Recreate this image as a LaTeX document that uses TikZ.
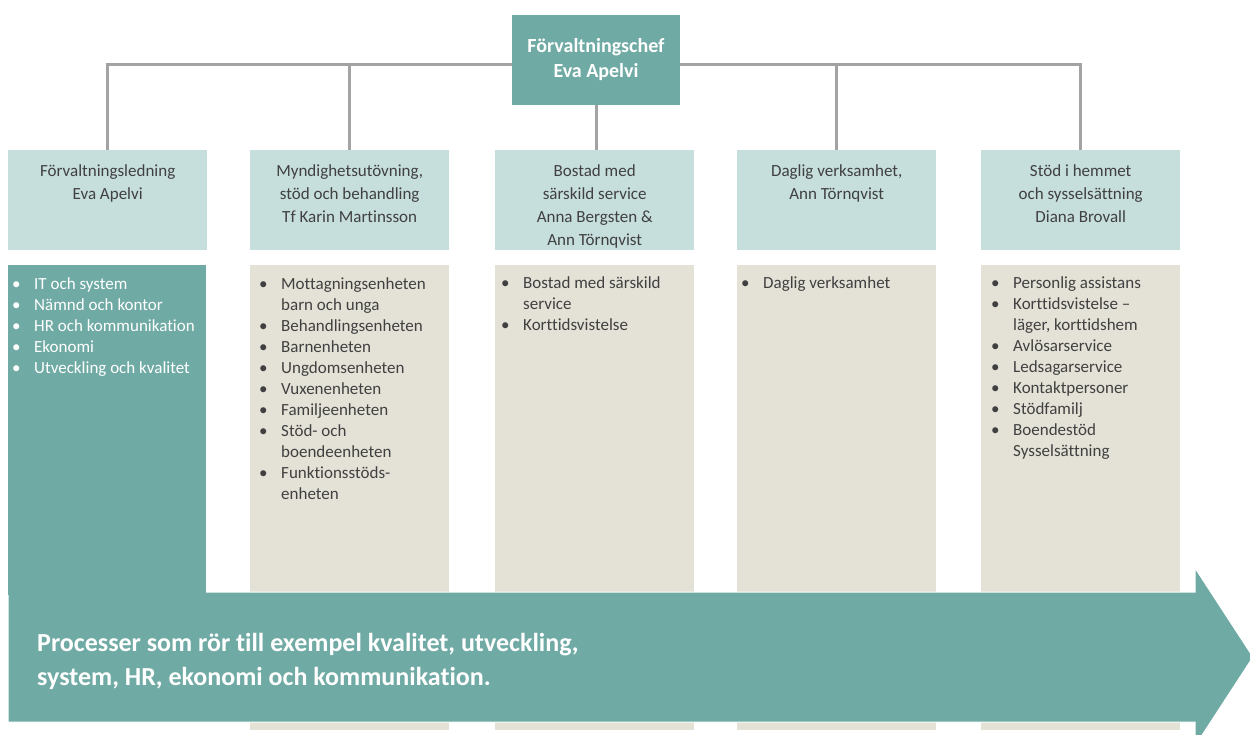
\documentclass[tikz,border=0pt]{standalone}
\usepackage{fontspec}
\setmainfont{Carlito}[Ligatures=NoCommon]
\usetikzlibrary{calc}

\definecolor{tealfill}{HTML}{70AAA4}
\definecolor{headfill}{HTML}{C6DEDC}
\definecolor{unitfill}{HTML}{E4E1D7}
\definecolor{linegray}{HTML}{A3A3A3}
\definecolor{darktext}{HTML}{404040}

% bullet with a fixed-width slot, so wrapped lines hang under the text
\newcommand{\bul}{\makebox[22pt][l]{\textbullet}}
\newcommand{\unitlist}[1]{\begin{tabular}{@{}l@{}l@{}}#1\end{tabular}}

\tikzset{
  conn/.style={draw=linegray, line width=3pt},
  chefbox/.style={fill=tealfill, minimum width=168pt, minimum height=90pt,
    inner sep=0pt, align=center, text=white,
    font=\fontsize{20}{25}\selectfont\bfseries},
  headbox/.style={fill=headfill, minimum width=199pt, minimum height=100pt,
    inner sep=0pt, anchor=north west},
  unitbox/.style={fill=unitfill, minimum width=199pt, minimum height=465pt,
    inner sep=0pt, anchor=north west},
  staffbox/.style={fill=tealfill, minimum width=198pt, minimum height=330pt,
    inner sep=0pt, anchor=north west},
  headtext/.style={anchor=north, align=center, inner sep=0pt, text=darktext,
    font=\fontsize{17}{23}\selectfont},
  listtext/.style={anchor=north west, inner sep=0pt, text=darktext,
    font=\fontsize{17}{21}\selectfont},
  bigtext/.style={anchor=north west, align=left, inner sep=0pt, text=white,
    font=\fontsize{26}{34}\selectfont\bfseries},
}

\begin{document}
\begin{tikzpicture}[x=1pt,y=-1pt]
\useasboundingbox (0,0) rectangle (1250,735);
\clip (0,0) rectangle (1250,735);

% head of the administration
\node[chefbox] (chef) at (596,60) {Förvaltningschef\\Eva Apelvi};

% department header boxes
\node[headbox] (h1) at (8,150) {};
\node[headbox] (h2) at (250,150) {};
\node[headbox] (h3) at (495,150) {};
\node[headbox] (h4) at (737,150) {};
\node[headbox] (h5) at (981,150) {};

\node[headtext] (t1) at ($(h1.north)+(0,14)$) {Förvaltningsledning\\Eva Apelvi};
\node[headtext] (t2) at ($(h2.north)+(0,14)$) {Myndighetsutövning,\\stöd och behandling\\Tf Karin Martinsson};
\node[headtext] (t3) at ($(h3.north)+(0,14)$) {Bostad med\\särskild service\\Anna Bergsten \&\\Ann Törnqvist};
\node[headtext] (t4) at ($(h4.north)+(0,14)$) {Daglig verksamhet,\\Ann Törnqvist};
\node[headtext] (t5) at ($(h5.north)+(0,14)$) {Stöd i hemmet\\och sysselsättning\\Diana Brovall};

% connectors from the head to each department
\coordinate (bus) at (0,65);
\draw[conn] (h1.north) |- (bus -| chef.west);
\draw[conn] (h2.north) |- (bus -| chef.west);
\draw[conn] (h4.north) |- (bus -| chef.east);
\draw[conn] (h5.north) |- (bus -| chef.east);
\draw[conn] (chef.south) -- (chef.south |- h3.north);

% unit boxes
\node[unitbox] (b2) at (250,265) {};
\node[unitbox] (b3) at (495,265) {};
\node[unitbox] (b4) at (737,265) {};
\node[unitbox] (b5) at (981,265) {};

% process arrow along the bottom
\fill[tealfill, draw=white, line width=1pt]
  (8,592) -- (1195,592) -- (1195,568) -- (1253,657) -- (1195,746)
  -- (1195,722) -- (8,722) -- cycle;

% staff column merging into the arrow
\node[staffbox] (b1) at (8,265) {};

% unit lists
\node[listtext, text=white] (l1) at (12,275) {\unitlist{%
  \bul & IT och system\\
  \bul & Nämnd och kontor\\
  \bul & HR och kommunikation\\
  \bul & Ekonomi\\
  \bul & Utveckling och kvalitet}};

\node[listtext] (l2) at (259,275) {\unitlist{%
  \bul & Mottagningsenheten\\
       & barn och unga\\
  \bul & Behandlingsenheten\\
  \bul & Barnenheten\\
  \bul & Ungdomsenheten\\
  \bul & Vuxenenheten\\
  \bul & Familjeenheten\\
  \bul & Stöd- och\\
       & boendeenheten\\
  \bul & Funktionsstöds-\\
       & enheten}};

\node[listtext] (l3) at (501,274) {\unitlist{%
  \bul & Bostad med särskild\\
       & service\\
  \bul & Korttidsvistelse}};

\node[listtext] (l4) at (741,274) {\unitlist{%
  \bul & Daglig verksamhet}};

\node[listtext] (l5) at (991,274) {\unitlist{%
  \bul & Personlig assistans\\
  \bul & Korttidsvistelse –\\
       & läger, korttidshem\\
  \bul & Avlösarservice\\
  \bul & Ledsagarservice\\
  \bul & Kontaktpersoner\\
  \bul & Stödfamilj\\
  \bul & Boendestöd\\
       & Sysselsättning}};

% text on the arrow
\node[bigtext] (proc) at (37,633) {Processer som rör till exempel kvalitet, utveckling,\\system, HR, ekonomi och kommunikation.};
\end{tikzpicture}
\end{document}
